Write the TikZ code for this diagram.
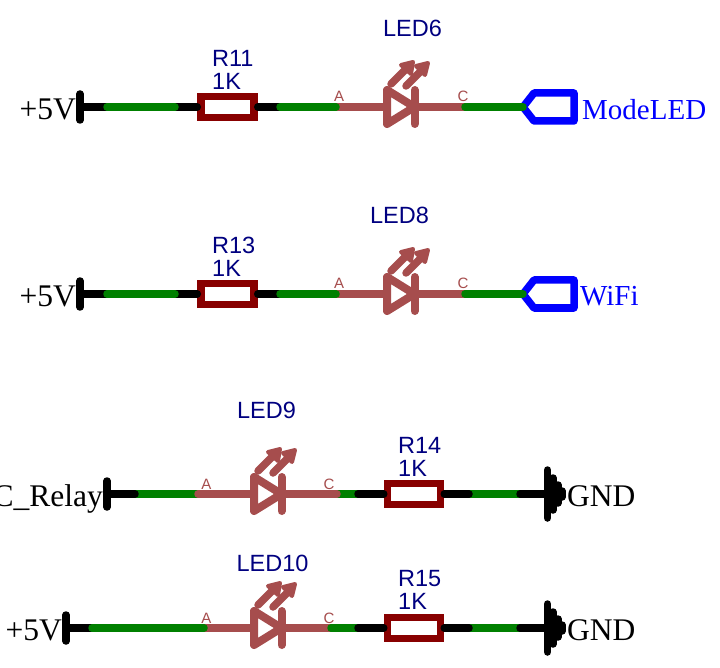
\documentclass[tikz,border=0pt]{standalone}
\usepackage{fontspec}
\setmainfont{Liberation Serif}
\newfontfamily\arialf{Liberation Sans}
\definecolor{wiregreen}{HTML}{008000}
\definecolor{ledbrown}{HTML}{A64D4D}
\definecolor{resred}{HTML}{880000}
\definecolor{refnavy}{HTML}{000080}
\tikzset{
  wire/.style={line width=7.5pt,line cap=round,line join=round},
  blackwire/.style={wire,draw=black},
  greenwire/.style={wire,draw=wiregreen},
  brownwire/.style={wire,draw=ledbrown},
  resbox/.style={draw=resred,fill=white,line width=7.5pt,minimum width=53pt,minimum height=21pt,inner sep=0pt,outer sep=3.75pt,line join=miter},
  reflabel/.style={font=\arialf\fontsize{23.5}{25}\selectfont,text=refnavy,anchor=base west,inner sep=0pt,yshift=-0.7pt},
  pinlabel/.style={font=\arialf\fontsize{15}{17}\selectfont,text=ledbrown,anchor=base,inner sep=0pt},
  blacklabel/.style={font=\fontsize{31.5}{33}\selectfont,text=black,inner sep=0pt},
  bluelabel/.style={font=\fontsize{29}{31}\selectfont,text=blue,inner sep=0pt,anchor=base west},
  portshape/.style={draw=blue,line width=7.5pt,line join=round},
  ledline/.style={draw=ledbrown,line width=8pt,line cap=round,line join=round},
  ledfill/.style={ledline,fill=ledbrown,line width=4pt}
}
% #1 name, #2 x of triangle base, #3 wire y
\newcommand\ledsym[3]{%
  \begin{scope}[shift={(#2,#3)}]
    \coordinate (#1tl) at (0,-17);
    \coordinate (#1bl) at (0,17);
    \coordinate (#1apex) at (27.5,0);
    \coordinate (#1bt) at (27.5,-17);
    \coordinate (#1bb) at (27.5,17);
    \coordinate (#1sa) at (4,-23);
    \coordinate (#1sae) at (20,-39);
    \coordinate (#1sb) at (19,-21);
    \coordinate (#1sbe) at (34,-36);
    \draw[ledline,fill=white] (#1tl) -- (#1apex) -- (#1bl) -- cycle;
    \draw[ledline] (#1bt) -- (#1bb);
    \draw[ledline,line width=7.5pt] (#1sa) -- (#1sae);
    \draw[ledline,line width=7.5pt] (#1sb) -- (#1sbe);
    \fill[ledfill] (14,-42) -- (26,-45) -- (24,-33) -- cycle;
    \fill[ledfill] (29,-41) -- (41,-44) -- (38,-32) -- cycle;
  \end{scope}}
% #1 name, #2 wire y
\newcommand\portsym[2]{%
  \coordinate (#1tip) at (523,#2);
  \coordinate (#1a) at (534,#2-14);
  \coordinate (#1b) at (574,#2-14);
  \coordinate (#1c) at (574,#2+14);
  \coordinate (#1d) at (534,#2+14);
  \draw[portshape] (#1tip) -- (#1a) -- (#1b) -- (#1c) -- (#1d) -- cycle;}
% #1 name, #2 wire y
\newcommand\gndsym[2]{%
  \coordinate (#1t1) at (547.5,#2-24);
  \coordinate (#1b1) at (547.5,#2+24);
  \coordinate (#1t2) at (553,#2-16);
  \coordinate (#1b2) at (553,#2+16);
  \coordinate (#1t3) at (558,#2-9);
  \coordinate (#1b3) at (558,#2+9);
  \coordinate (#1t4) at (562,#2-3);
  \coordinate (#1b4) at (562,#2+3);
  \draw[blackwire] (#1t1) -- (#1b1);
  \draw[blackwire] (#1t2) -- (#1b2);
  \draw[blackwire] (#1t3) -- (#1b3);
  \draw[blackwire] (#1t4) -- (#1b4);}
% #1 name, #2 x, #3 wire y
\newcommand\barsym[3]{%
  \coordinate (#1t) at (#2,#3-13);
  \coordinate (#1b) at (#2,#3+13);
  \coordinate (#1m) at (#2,#3);
  \draw[blackwire] (#1t) -- (#1b);}
\begin{document}
\begin{tikzpicture}[x=1pt,y=-1pt]
\useasboundingbox (0,0) rectangle (720,668);
\fill[white] (0,0) rectangle (720,668);

% ---------- row 1
\coordinate (w1a) at (107,107);\coordinate (w1b) at (175,107);
\coordinate (w1c) at (280,107);\coordinate (w1d) at (336,107);
\coordinate (w1e) at (465,107);\coordinate (w1f) at (523,107);
\barsym{p1}{80}{107}
\portsym{port1}{107}
\node[resbox] (r11) at (227.5,107) {};
\draw[blackwire] (p1m) -- (r11.west);
\draw[greenwire] (w1a) -- (w1b);
\draw[blackwire] (r11.east) -- (w1c);
\draw[brownwire] (w1d) -- (w1e);
\draw[greenwire] (w1c) -- (w1d);
\ledsym{led6}{387}{107}
\draw[greenwire] (w1e) -- (w1f);
\node[blacklabel,anchor=base east] (l1) at (76,120) {+5V};
\node[bluelabel] (n1) at (582,120) {ModeLED};
\node[reflabel] (t1a) at (212,66) {R11};
\node[reflabel] (t1b) at (212,89) {1K};
\node[reflabel,anchor=base] (t1c) at (412.5,36) {LED6};
\node[pinlabel] (t1d) at (339,102) {A};
\node[pinlabel] (t1e) at (463,102) {C};

% ---------- row 2
\coordinate (w2a) at (107,294);\coordinate (w2b) at (175,294);
\coordinate (w2c) at (280,294);\coordinate (w2d) at (336,294);
\coordinate (w2e) at (465,294);\coordinate (w2f) at (523,294);
\barsym{p2}{80}{294}
\portsym{port2}{294}
\node[resbox] (r13) at (227.5,294) {};
\draw[blackwire] (p2m) -- (r13.west);
\draw[greenwire] (w2a) -- (w2b);
\draw[blackwire] (r13.east) -- (w2c);
\draw[brownwire] (w2d) -- (w2e);
\draw[greenwire] (w2c) -- (w2d);
\ledsym{led8}{387}{294}
\draw[greenwire] (w2e) -- (w2f);
\node[blacklabel,anchor=base east] (l2) at (76,307) {+5V};
\node[bluelabel] (n2) at (580,305.5) {WiFi};
\node[reflabel] (t2a) at (212,253) {R13};
\node[reflabel] (t2b) at (212,276) {1K};
\node[reflabel,anchor=base] (t2c) at (399.5,223) {LED8};
\node[pinlabel] (t2d) at (339,289) {A};
\node[pinlabel] (t2e) at (463,289) {C};

% ---------- row 3
\coordinate (w3a) at (135,494);\coordinate (w3b) at (198,494);
\coordinate (w3c) at (337,494);\coordinate (w3d) at (358,494);
\coordinate (w3e) at (469,494);\coordinate (w3f) at (520,494);
\draw[greenwire] (w3a) -- (w3b);
\barsym{p3}{107}{494}
\draw[blackwire] (p3m) -- (w3a);
\draw[greenwire] (w3c) -- (w3d);
\draw[brownwire] (w3b) -- (w3c);
\ledsym{led9}{254}{494}
\node[resbox] (r14) at (414,494) {};
\draw[blackwire] (w3d) -- (r14.west);
\draw[greenwire] (w3e) -- (w3f);
\draw[blackwire] (r14.east) -- (w3e);
\gndsym{g3}{494}
\draw[blackwire] (w3f) -- (g3t1 |- w3f);
\node[blacklabel,anchor=base east] (l3) at (103,506) {C\_Relay};
\node[blacklabel,anchor=base west] (g3l) at (567,506) {GND};
\node[reflabel] (t3a) at (398,453) {R14};
\node[reflabel] (t3b) at (398,476) {1K};
\node[reflabel,anchor=base] (t3c) at (266.5,418) {LED9};
\node[pinlabel] (t3d) at (206.5,489) {A};
\node[pinlabel] (t3e) at (329,489) {C};

% ---------- row 4
\coordinate (w4a) at (92,628);\coordinate (w4b) at (204,628);
\coordinate (w4c) at (331,628);\coordinate (w4d) at (358,628);
\coordinate (w4e) at (469,628);\coordinate (w4f) at (520,628);
\barsym{p4}{66}{628}
\draw[blackwire] (p4m) -- (w4a);
\draw[brownwire] (w4b) -- (w4c);
\draw[greenwire] (w4a) -- (w4b);
\draw[greenwire] (w4c) -- (w4d);
\ledsym{led10}{254}{628}
\node[resbox] (r15) at (414,628) {};
\draw[blackwire] (w4d) -- (r15.west);
\draw[greenwire] (w4e) -- (w4f);
\draw[blackwire] (r15.east) -- (w4e);
\gndsym{g4}{628}
\draw[blackwire] (w4f) -- (g4t1 |- w4f);
\node[blacklabel,anchor=base east] (l4) at (62,640) {+5V};
\node[blacklabel,anchor=base west] (g4l) at (567,640) {GND};
\node[reflabel] (t4a) at (398,586) {R15};
\node[reflabel] (t4b) at (398,609) {1K};
\node[reflabel,anchor=base] (t4c) at (272.5,571) {LED10};
\node[pinlabel] (t4d) at (206.5,623) {A};
\node[pinlabel] (t4e) at (329,623) {C};
\end{tikzpicture}
\end{document}
